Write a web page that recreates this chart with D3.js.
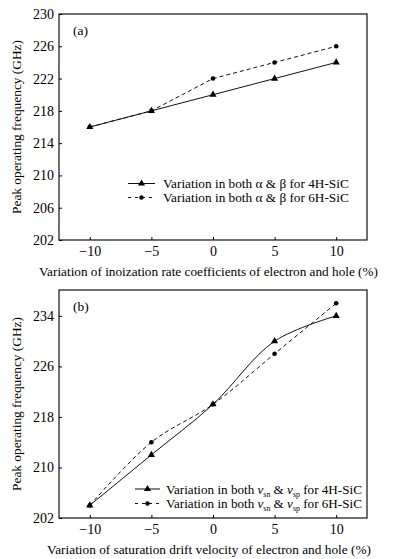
<!DOCTYPE html>
<html>
<head>
<meta charset="utf-8">
<script src="https://cdn.jsdelivr.net/npm/d3@7"></script>
<style>
  body { margin: 0; background: #fff; }
  svg { display: block; font-family: "Liberation Serif", "DejaVu Serif", serif; }
</style>
</head>
<body>
<svg width="393" height="559"></svg>
<script>
// x values (% variation) shared by both panels
const X_VALUES = [-10, -5, 0, 5, 10];
const X_TICKS = [-10, -5, 0, 5, 10];

// panel (a): ionization rate coefficients
const A_4H = [216, 218, 220, 222, 224];
const A_6H = [216, 218, 222, 224, 226];
const A_Y_TICKS = [202, 206, 210, 214, 218, 222, 226, 230];

// panel (b): saturation drift velocity
const B_4H = [204, 212, 220, 230, 234];
const B_6H = [204, 214, 220, 228, 236];
const B_Y_TICKS = [202, 210, 218, 226, 234];

const svg = d3.select('svg');

// scale a text's font so it takes the width seen in the picture
function fit(t, w) {
  const fs = +t.attr('font-size');
  const cur = t.node().getComputedTextLength();
  if (cur > 0) t.attr('font-size', (fs * w / cur).toFixed(2));
  return t;
}

function drawPanel(opts) {
  const g = svg.append('g');
  const x = d3.scaleLinear().domain([-12.5, 12.5]).range([59, 367]);
  const y = d3.scaleLinear().domain(opts.yDomain).range([opts.bottom, opts.top]);

  // frame
  g.append('rect')
    .attr('x', 59).attr('y', opts.top)
    .attr('width', 308).attr('height', opts.bottom - opts.top)
    .attr('fill', 'none').attr('stroke', '#111').attr('stroke-width', 1.2);

  // axes, ticks pointing inward
  const xAxis = g.append('g')
    .attr('transform', `translate(0,${opts.bottom})`)
    .call(d3.axisTop(x).tickValues(X_TICKS).tickSize(3).tickFormat(d => d < 0 ? '\u2212' + Math.abs(d) : d))
    .attr('font-family', null).attr('font-size', 14);
  xAxis.select('.domain').remove();
  xAxis.selectAll('text').attr('y', 16).attr('dy', null);

  const yAxis = g.append('g')
    .attr('transform', 'translate(59,0)')
    .call(d3.axisRight(y).tickValues(opts.yTicks).tickSize(3))
    .attr('font-family', null).attr('font-size', 14);
  yAxis.select('.domain').remove();
  yAxis.selectAll('text').attr('x', -5).attr('text-anchor', 'end');

  // axis titles
  fit(g.append('text')
    .attr('x', opts.xTitleX).attr('y', opts.bottom + 36)
    .attr('text-anchor', 'middle').attr('font-size', 13.5)
    .text(opts.xTitle), opts.xTitleW);
  fit(g.append('text')
    .attr('transform', `translate(21,${(opts.top + opts.bottom) / 2}) rotate(-90)`)
    .attr('text-anchor', 'middle').attr('font-size', 13.5)
    .text('Peak operating frequency (GHz)'), 174);

  g.append('text')
    .attr('x', 73).attr('y', opts.top + 21)
    .attr('font-size', 13.5)
    .text(opts.label);

  const pts4 = X_VALUES.map((v, i) => [v, opts.s4[i]]);
  const pts6 = X_VALUES.map((v, i) => [v, opts.s6[i]]);

  const line4 = d3.line().x(d => x(d[0])).y(d => y(d[1])).curve(opts.curve4);
  const line6 = d3.line().x(d => x(d[0])).y(d => y(d[1])).curve(opts.curve6);

  g.append('path').attr('d', line6(pts6))
    .attr('fill', 'none').attr('stroke', '#111').attr('stroke-width', 1)
    .attr('stroke-dasharray', '4,3');
  g.append('path').attr('d', line4(pts4))
    .attr('fill', 'none').attr('stroke', '#111').attr('stroke-width', 1);

  const tri = d3.symbol().type(d3.symbolTriangle).size(22);
  g.selectAll('.tri').data(pts4).enter().append('path')
    .attr('transform', d => `translate(${x(d[0])},${y(d[1])})`)
    .attr('d', tri()).attr('fill', '#000');
  g.selectAll('.dot').data(pts6).enter().append('circle')
    .attr('cx', d => x(d[0])).attr('cy', d => y(d[1]))
    .attr('r', 2.3).attr('fill', '#000');

  // legend
  const lg = opts.legend;
  [0, 1].forEach(i => {
    const ly = lg.y + i * lg.dy;
    g.append('line')
      .attr('x1', lg.x).attr('x2', lg.x + lg.w).attr('y1', ly).attr('y2', ly)
      .attr('stroke', '#111').attr('stroke-width', 1)
      .attr('stroke-dasharray', i === 0 ? null : '3,4');
    if (i === 0) {
      g.append('path').attr('transform', `translate(${lg.x + lg.w / 2},${ly})`)
        .attr('d', tri()).attr('fill', '#000');
    } else {
      g.append('circle').attr('cx', lg.x + lg.w / 2).attr('cy', ly)
        .attr('r', 2.2).attr('fill', '#000');
    }
    const t = g.append('text').attr('x', lg.tx).attr('y', ly + 4.5)
      .attr('font-size', 13.3);
    lg.text(t, i === 0 ? '4H-SiC' : '6H-SiC');
    fit(t, lg.tw);
  });
}

drawPanel({
  top: 14, bottom: 240, yDomain: [202, 230], yTicks: A_Y_TICKS,
  s4: A_4H, s6: A_6H, label: '(a)',
  curve4: d3.curveLinear, curve6: d3.curveLinear,
  xTitle: 'Variation of inoization rate coefficients of electron and hole (%)',
  xTitleX: 208.5, xTitleW: 339,
  legend: { x: 128, y: 183.5, dy: 14, w: 27, tx: 163, tw: 186,
    text: (t, s) => t.text('Variation in both \u03b1 & \u03b2 for ' + s) }
});

drawPanel({
  top: 290, bottom: 518, yDomain: [202, 238.1], yTicks: B_Y_TICKS,
  s4: B_4H, s6: B_6H, label: '(b)',
  curve4: d3.curveCatmullRom, curve6: d3.curveCatmullRom,
  xTitle: 'Variation of saturation drift velocity of electron and hole (%)',
  xTitleX: 209, xTitleW: 324,
  legend: { x: 135, y: 489, dy: 14.5, w: 25, tx: 166, tw: 196,
    text: (t, s) => {
      t.append('tspan').text('Variation in both ');
      t.append('tspan').attr('font-style', 'italic').text('v');
      t.append('tspan').attr('font-size', '0.6em').attr('dy', 3).text('sn');
      t.append('tspan').attr('dy', -3).text(' & ');
      t.append('tspan').attr('font-style', 'italic').text('v');
      t.append('tspan').attr('font-size', '0.6em').attr('dy', 3).text('sp');
      t.append('tspan').attr('dy', -3).text(' for ' + s);
    } }
});
</script>
</body>
</html>
